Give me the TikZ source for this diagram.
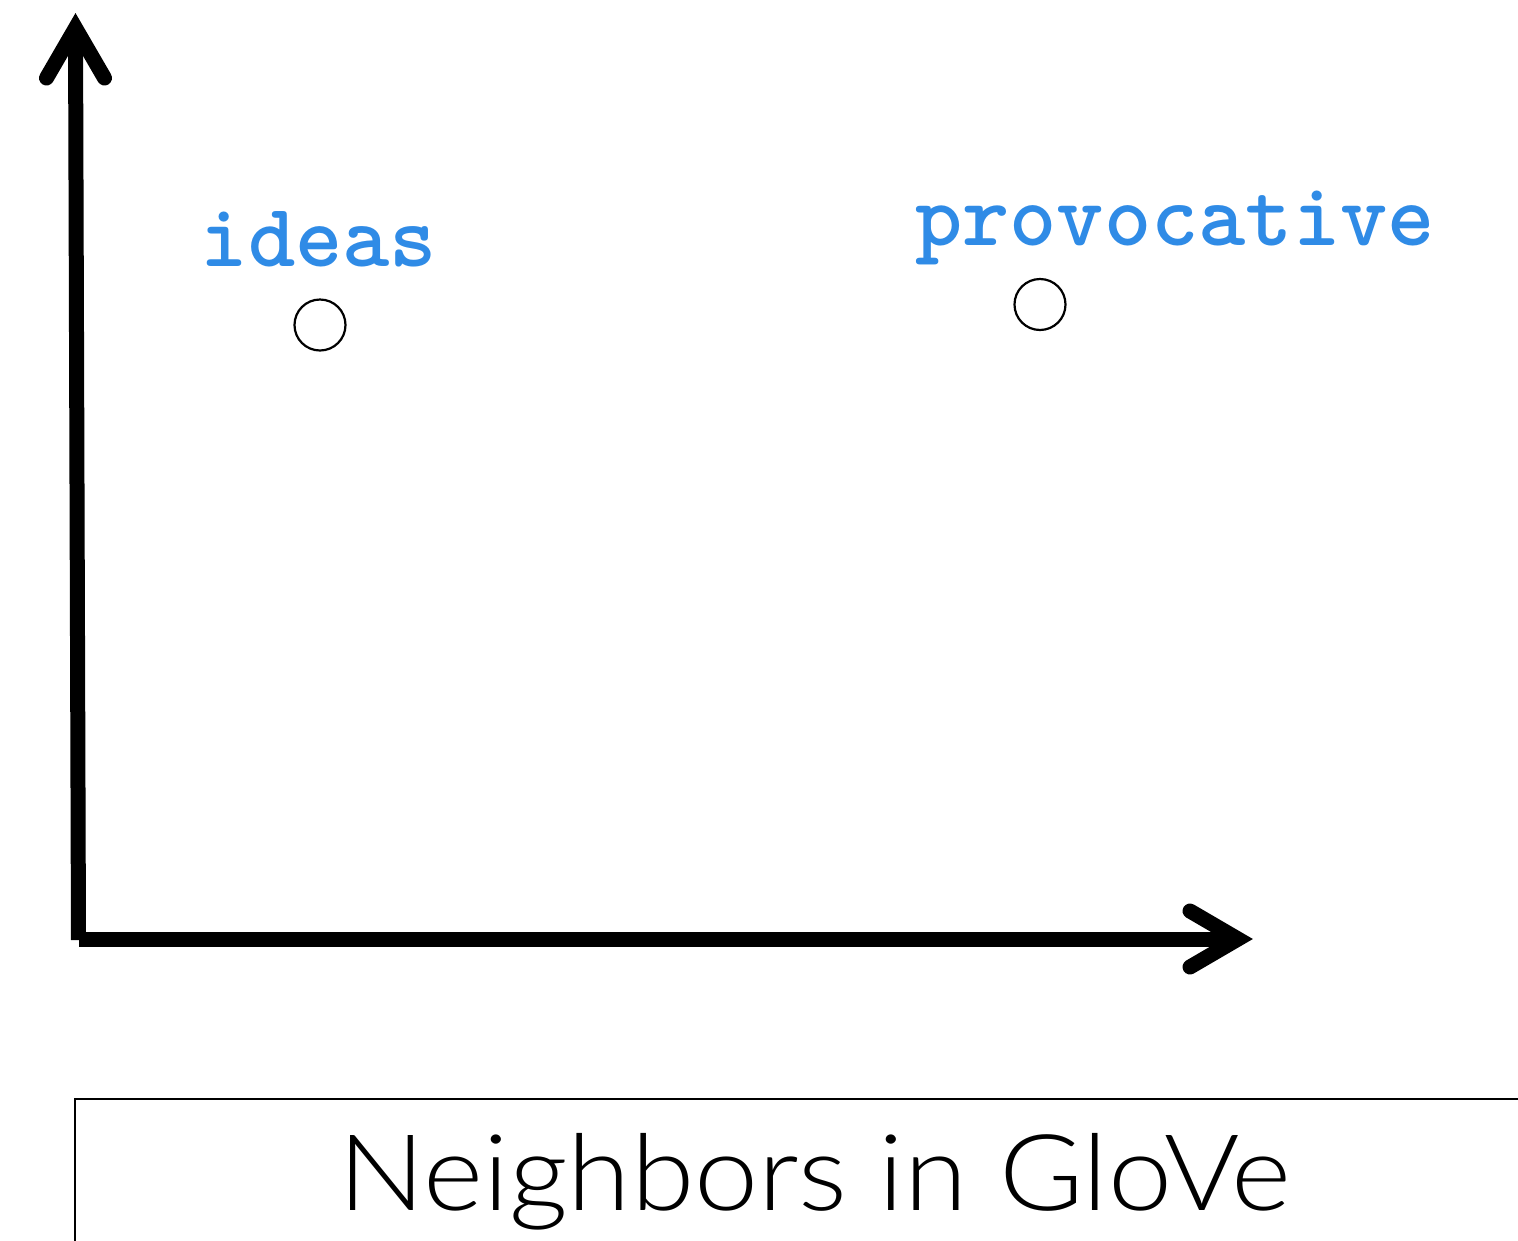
\documentclass[tikz,border=0pt]{standalone}
\usepackage{fontspec}
\usetikzlibrary{calc}
\newfontfamily\capfont{Lato Light}[FakeStretch=1.085]
\definecolor{wordblue}{HTML}{2F8BE6}
\tikzset{
  axisline/.style={line width=15pt, line cap=butt},
  axishead/.style={line width=15pt, line cap=round, line join=miter},
  point/.style={circle, draw, line width=2.2pt, minimum size=51pt, inner sep=0pt},
  word/.style={text=wordblue, font=\fontsize{90}{90}\selectfont\ttfamily\bfseries, inner sep=0pt, anchor=base},
  caption/.style={font=\capfont\fontsize{106}{106}\selectfont, inner sep=0pt, anchor=base}
}
\begin{document}
\begin{tikzpicture}[x=1pt, y=-1pt]
  \useasboundingbox (0,0) rectangle (1518,1240);
  \clip (0,0) rectangle (1518,1240);

  % axes
  \coordinate (ybot) at (78.5,940);
  \coordinate (ytip) at (75.5,28);
  \coordinate (xstart) at (79,939);
  \coordinate (xtip) at (1238,939);
  \draw[axisline] (ybot) -- (ytip);
  \draw[axisline] (xstart) -- (xtip);
  \draw[axishead] ($(ytip)+(-29,50)$) -- (ytip) -- ($(ytip)+(29,50)$);
  \draw[axishead] ($(xtip)+(-48,-28)$) -- (xtip) -- ($(xtip)+(-48,28)$);

  % word points
  \node[point] (p1) at (320,325) {};
  \node[point] (p2) at (1040,304.5) {};
  \node[word] (w1) at (319,266) {ideas};
  \node[word] (w2) at (1175,245) {provocative};

  % caption box
  \draw[line width=2pt] (75,1300) |- (1600,1099);
  \node[caption] (cap) at (815,1210) {Neighbors in GloVe};
\end{tikzpicture}
\end{document}
